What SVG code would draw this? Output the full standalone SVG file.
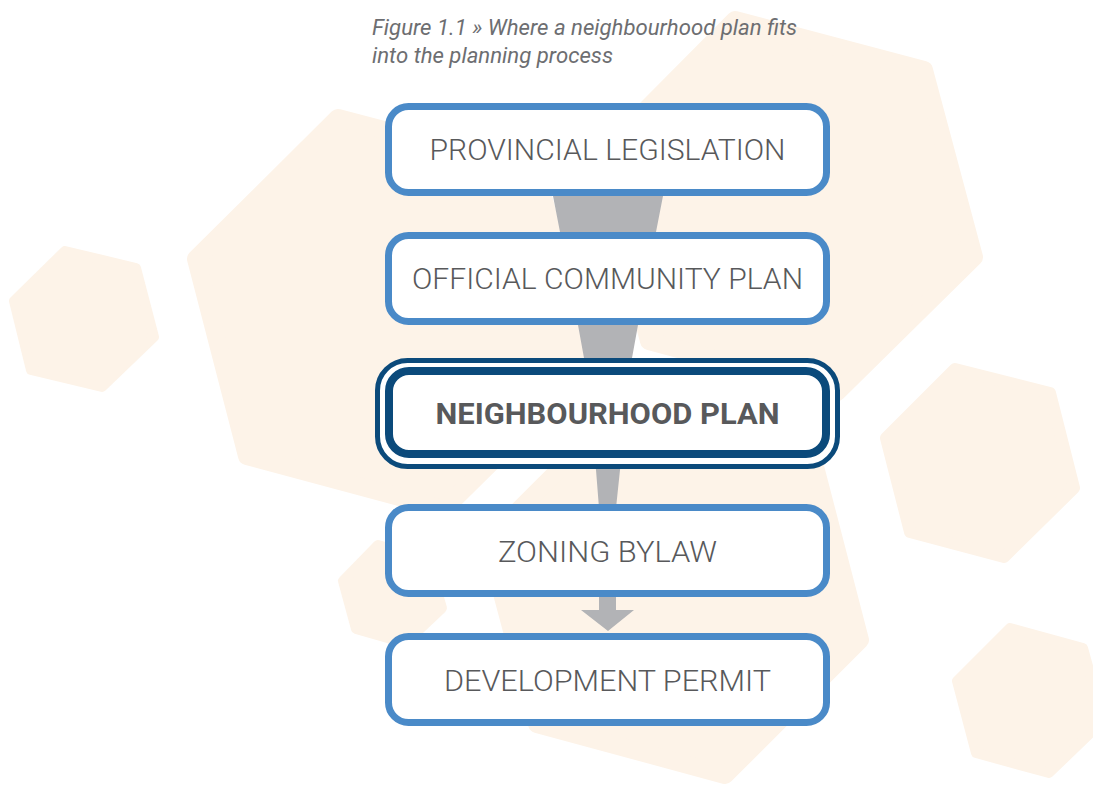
<svg xmlns="http://www.w3.org/2000/svg" width="1093" height="787" viewBox="0 0 1093 787">
<style>
.hex{fill:#FDF3E8;stroke:#FDF3E8;stroke-linejoin:round}
.box{fill:#FFFFFF;stroke:#4A8AC8;stroke-width:7}
.dk{fill:#FFFFFF;stroke:#0B4A7B}
.lbl{font-family:Roboto,"Open Sans",sans-serif;font-weight:300;font-size:30px;fill:#58595B;text-anchor:middle}
.bold{font-weight:700}
.cap{font-family:Roboto,"Open Sans",sans-serif;font-style:italic;font-size:22px;fill:#6D6E71}
.flow{fill:#B2B3B6}
</style>
<rect width="1093" height="787" fill="#FFFFFF"/>
<g id="background">
<polygon class="hex" stroke-width="10" points="65,251 136,268 154,337 102,387 31,370 14,301"/>
<polygon class="hex" stroke-width="18" points="338,118 536,170 588,367 444,509 247,456 196,259"/>
<polygon class="hex" stroke-width="18" points="735,20 924,70 974,257 837,392 649,341 600,156"/>
<polygon class="hex" stroke-width="18" points="624,405 812,455 860,640 725,775 537,724 488,541"/>
<polygon class="hex" stroke-width="10" points="378,545 428,559 442,608 405,643 356,629 343,581"/>
<polygon class="hex" stroke-width="12" points="955,369 1050,393 1074,488 1004,557 910,532 886,438"/>
<polygon class="hex" stroke-width="10" points="1010,628 1083,648 1103,721 1049,773 976,753 957,681"/>
</g>
<g id="connectors">
<path class="flow" d="M549,175 L553,196 L560,232 L578,325 L584,358 L596,470 L599,508 L616,508 L620,470 L632,358 L638,325 L656,232 L663,196 L667,175 Z"/>
<polygon class="flow" points="599,595 616,595 616,610 634,610 608,631 581,610 599,610"/>
</g>
<g id="caption">
<text class="cap" x="372" y="35" textLength="425" lengthAdjust="spacingAndGlyphs">Figure 1.1 » Where a neighbourhood plan fits</text>
<text class="cap" x="372" y="63" textLength="241" lengthAdjust="spacingAndGlyphs">into the planning process</text>
</g>
<g id="node-provincial">
<rect class="box" x="388.5" y="106.5" width="438" height="86" rx="20"/>
<text class="lbl" x="607.5" y="160" textLength="356" lengthAdjust="spacingAndGlyphs">PROVINCIAL LEGISLATION</text>
</g>
<g id="node-official">
<rect class="box" x="388.5" y="235.5" width="438" height="86" rx="20"/>
<text class="lbl" x="607.5" y="289" textLength="391" lengthAdjust="spacingAndGlyphs">OFFICIAL COMMUNITY PLAN</text>
</g>
<g id="node-neighbourhood">
<rect class="dk" x="377.5" y="360.5" width="460" height="106" rx="30" stroke-width="5"/>
<rect class="dk" x="389" y="371" width="437" height="83" rx="20" stroke-width="8"/>
<text class="lbl bold" x="607.5" y="424" textLength="344" lengthAdjust="spacingAndGlyphs">NEIGHBOURHOOD PLAN</text>
</g>
<g id="node-zoning">
<rect class="box" x="388.5" y="507.5" width="438" height="86" rx="20"/>
<text class="lbl" x="607.5" y="562" textLength="219" lengthAdjust="spacingAndGlyphs">ZONING BYLAW</text>
</g>
<g id="node-development">
<rect class="box" x="388.5" y="636.5" width="438" height="86" rx="20"/>
<text class="lbl" x="607.5" y="691" textLength="327" lengthAdjust="spacingAndGlyphs">DEVELOPMENT PERMIT</text>
</g>
</svg>
